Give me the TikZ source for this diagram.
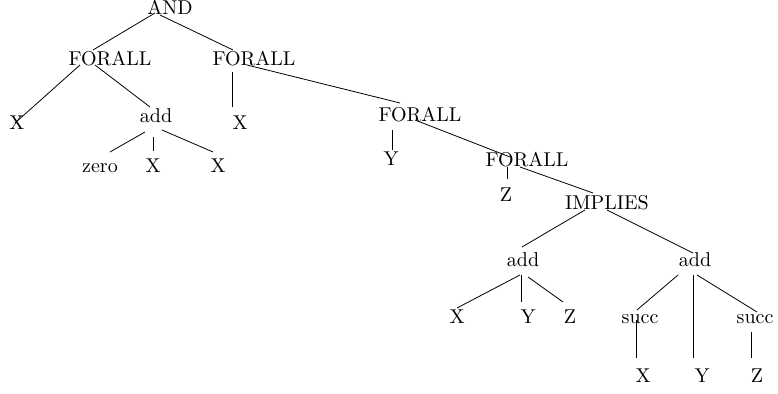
\documentclass[tikz,border=0pt]{standalone}
\begin{document}
\begin{tikzpicture}[x=0.5pt,y=-0.5pt,
  lbl/.style={anchor=base,inner sep=0pt,font=\normalsize},
  edge/.style={line width=0.4pt}]
\useasboundingbox (0,0) rectangle (778,394);
% term nodes (placed by baseline)
\node[lbl] (and)   at (170,15)  {AND};
\node[lbl] (fa1)   at (110,66)  {FORALL};
\node[lbl] (fa2)   at (254,66)  {FORALL};
\node[lbl] (x1)    at (17,130)  {X};
\node[lbl] (add1)  at (156,123) {add};
\node[lbl] (x2)    at (240,130) {X};
\node[lbl] (fa3)   at (420,122) {FORALL};
\node[lbl] (zero)  at (100,173) {zero};
\node[lbl] (x3)    at (153,173) {X};
\node[lbl] (x4)    at (218,173) {X};
\node[lbl] (y1)    at (391,166) {Y};
\node[lbl] (fa4)   at (527,167) {FORALL};
\node[lbl] (z1)    at (506,202) {Z};
\node[lbl] (imp)   at (607,210) {IMPLIES};
\node[lbl] (add2)  at (523,267) {add};
\node[lbl] (add3)  at (695,267) {add};
\node[lbl] (x5)    at (457,324) {X};
\node[lbl] (y2)    at (528,324) {Y};
\node[lbl] (z2)    at (570,324) {Z};
\node[lbl] (succ1) at (640,324) {succ};
\node[lbl] (succ2) at (755,324) {succ};
\node[lbl] (x6)    at (643,383) {X};
\node[lbl] (y3)    at (702,383) {Y};
\node[lbl] (z3)    at (757,383) {Z};
% tree edges
\draw[edge] ([shift={(-15,-2)}]and.base)  -- ([shift={(-17,-16)}]fa1.base);
\draw[edge] ([shift={(-10,0)}]and.base)   -- ([shift={(-21,-16)}]fa2.base);
\draw[edge] ([shift={(-30,-1)}]fa1.base)  -- ([shift={(-2,-7)}]x1.base);
\draw[edge] ([shift={(-15,-1)}]fa1.base)  -- ([shift={(-6,-16)}]add1.base);
\draw[edge] ([shift={(-22,6)}]fa2.base)   -- ([shift={(-8,-23)}]x2.base);
\draw[edge] ([shift={(-7,-1)}]fa2.base)   -- ([shift={(-20,-19)}]fa3.base);
\draw[edge] ([shift={(-11,9)}]add1.base)  -- ([shift={(10,-21)}]zero.base);
\draw[edge] ([shift={(-3,14)}]add1.base)  -- ([shift={(0,-22)}]x3.base);
\draw[edge] ([shift={(6,7)}]add1.base)    -- ([shift={(-5,-21)}]x4.base);
\draw[edge] ([shift={(-28,8)}]fa3.base)   -- ([shift={(1,-16)}]y1.base);
\draw[edge] ([shift={(-5,-2)}]fa3.base)   -- ([shift={(-17,-10)}]fa4.base);
\draw[edge] ([shift={(-20,0)}]fa4.base)   -- ([shift={(1,-23)}]z1.base);
\draw[edge] ([shift={(-7,0)}]fa4.base)    -- ([shift={(-14,-17)}]imp.base);
\draw[edge] ([shift={(-22,0)}]imp.base)   -- ([shift={(-1,-20)}]add2.base);
\draw[edge] ([shift={(0,0)}]imp.base)     -- ([shift={(-2,-14)}]add3.base);
\draw[edge] ([shift={(-3,8)}]add2.base)   -- ([shift={(0,-16)}]x5.base);
\draw[edge] ([shift={(-2,8)}]add2.base)   -- ([shift={(-7,-22)}]y2.base);
\draw[edge] ([shift={(5,10)}]add2.base)   -- ([shift={(-7,-22)}]z2.base);
\draw[edge] ([shift={(-17,8)}]add3.base)  -- ([shift={(-3,-14)}]succ1.base);
\draw[edge] ([shift={(-2,8)}]add3.base)   -- ([shift={(-9,-25)}]y3.base);
\draw[edge] ([shift={(2,8)}]add3.base)    -- ([shift={(2,-12)}]succ2.base);
\draw[edge] ([shift={(-4,-4)}]succ1.base) -- ([shift={(-7,-25)}]x6.base);
\draw[edge] ([shift={(-4,8)}]succ2.base)  -- ([shift={(-6,-25)}]z3.base);
\end{tikzpicture}
\end{document}
